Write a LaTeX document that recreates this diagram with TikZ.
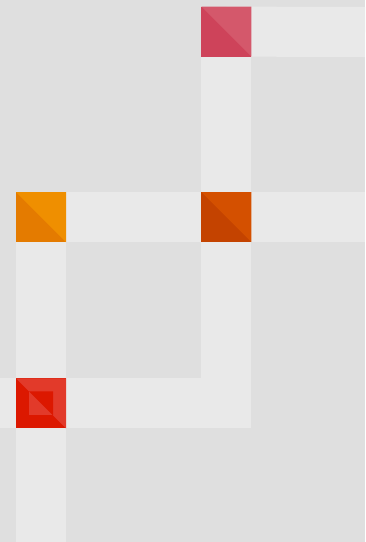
\documentclass[tikz,border=0pt]{standalone}
\usetikzlibrary{positioning,backgrounds}
\definecolor{bg}{HTML}{DFDFDF}
\definecolor{track}{HTML}{E9E9E9}
\definecolor{rosehi}{HTML}{D4586B}
\definecolor{roselo}{HTML}{CE435A}
\definecolor{orangehi}{HTML}{EF8F00}
\definecolor{orangelo}{HTML}{E47B00}
\definecolor{rusthi}{HTML}{D45000}
\definecolor{rustlo}{HTML}{C44300}
\definecolor{redhi}{HTML}{E23A2A}
\definecolor{redlo}{HTML}{DC1800}
\begin{document}
\begin{tikzpicture}[x=1pt,y=1pt,node distance=135pt,
      tile/.style 2 args={
        % The shape:
        rectangle,minimum size=50pt,inner sep=0pt,
        % The rest
        fill=#1,
        path picture={\fill[#2] (path picture bounding box.north west) -- (path picture bounding box.north east) -- (path picture bounding box.south east) -- cycle;}},
      lane/.style={line width=50pt,draw=track}]
    \useasboundingbox (0,0) rectangle (365,-542);
    \node(orange)[tile={orangelo}{orangehi}] at (41,-217) {};
    \node(rust)[tile={rustlo}{rusthi}, right=of orange] {};
    \node(rose)[tile={roselo}{rosehi}, above=of rust] {};
    \node(red)[tile={redlo}{redhi}, below=136pt of orange] {};
    \node(core)[tile={redhi}{redlo}, minimum size=24pt] at (red.center) {};
    \coordinate(roseend) at (365,-32);
    \coordinate(rustend) at (365,-217);
    \coordinate(leftend) at (0,-403);
    \coordinate(redend) at (41,-542);
    \begin{scope}[on background layer]
      \fill[bg] (0,0) rectangle (365,-542);
      \path (rose.center) edge[lane] (roseend);
      \path (rose.center) edge[lane] (rust.center);
      \path (orange.center) edge[lane] (rustend);
      \draw[lane] (rust.center) |- (leftend);
      \path (orange.center) edge[lane] (red.center);
      \path (red.center) edge[lane] (redend);
    \end{scope}
  \end{tikzpicture}
\end{document}
